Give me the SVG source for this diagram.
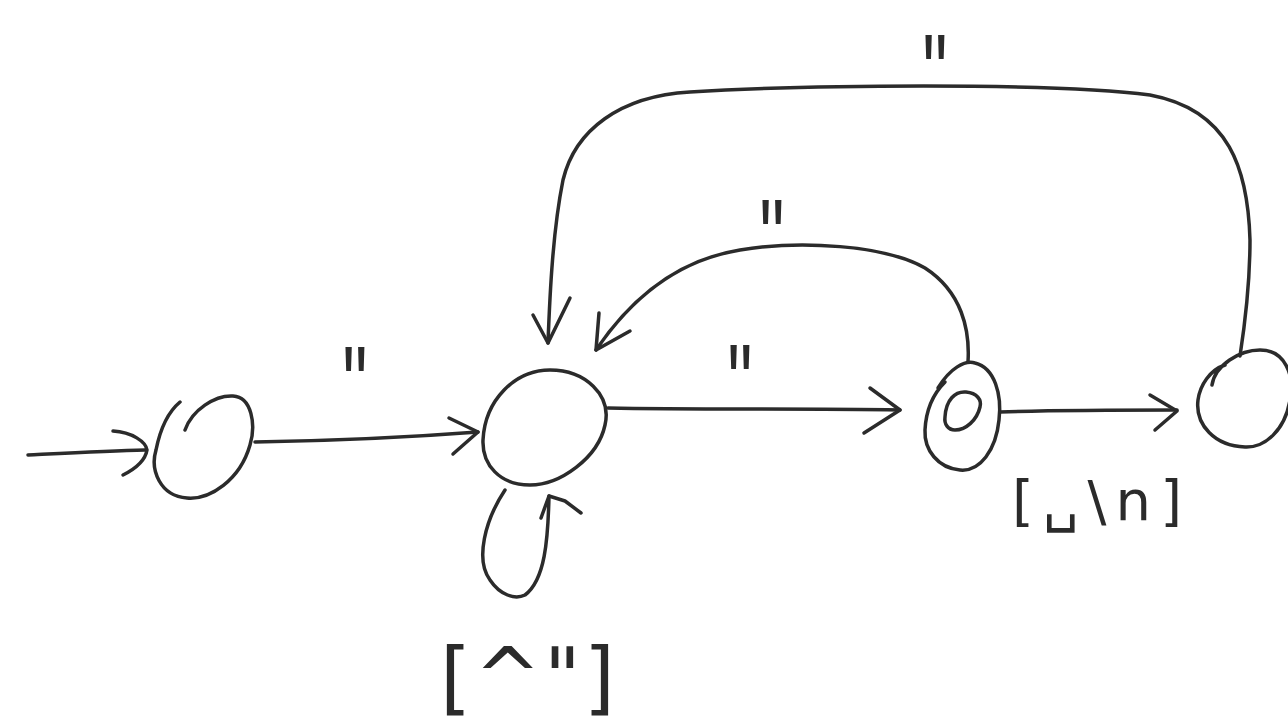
<svg xmlns="http://www.w3.org/2000/svg" width="1288" height="723" viewBox="0 0 1288 723">
  <style>
    .ink { fill: none; stroke: #2b2b2b; stroke-width: 3.5; stroke-linecap: round; stroke-linejoin: round; }
    .lbl { fill: #2b2b2b; font-family: "DejaVu Sans", "Liberation Sans", sans-serif; }
    .q { font-family: "Liberation Sans", sans-serif; font-size: 70px; text-anchor: middle; }
  </style>
  <rect width="1288" height="723" fill="#ffffff"/>

  <!-- states -->
  <g id="state-start">
    <path class="ink" d="M185,430 C192,410 215,395 233,396 C252,397 256,425 250,445 C240,480 210,500 187,498 C160,496 150,470 156,450 C160,430 168,412 180,402"/>
  </g>
  <g id="state-in-string">
    <path class="ink" d="M483,440 C485,400 515,370 550,370 C585,370 612,395 605,425 C598,458 560,485 530,485 C500,485 482,465 483,440 Z"/>
  </g>
  <g id="state-quote">
    <path class="ink" d="M938,388 C950,368 965,360 975,363 C995,368 1002,395 999,420 C996,450 980,472 960,470 C938,468 924,450 925,430 C926,410 932,395 945,382"/>
    <path class="ink" d="M945,417 C946,400 955,391 966,392 C977,393 982,400 980,407 C977,420 966,430 955,430 C948,430 944,424 945,417 Z"/>
  </g>
  <g id="state-end">
    <path class="ink" d="M1212,385 C1215,365 1240,350 1260,350 C1285,350 1295,375 1290,400 C1285,430 1265,448 1245,447 C1215,446 1195,425 1198,400 C1200,385 1210,370 1225,365"/>
  </g>

  <!-- transitions -->
  <g id="connectors">
    <!-- entry -->
    <path class="ink" d="M28,455 C70,453 110,451 145,450"/>
    <path class="ink" d="M113,431 C132,432 146,442 147,450 C145,462 133,470 123,475"/>
    <!-- start to in-string -->
    <path class="ink" d="M255,442 C320,441 400,438 478,432"/>
    <path class="ink" d="M449,418 L478,432 L453,454"/>
    <!-- self loop [^"] -->
    <path class="ink" d="M505,490 C485,520 475,560 490,580 C500,595 515,600 525,595 C545,580 548,540 549,496"/>
    <path class="ink" d="M541,518 L549,496 L565,501 L581,513"/>
    <!-- in-string to quote -->
    <path class="ink" d="M608,408 C700,410 800,408 900,410"/>
    <path class="ink" d="M870,388 L900,410 L864,433"/>
    <!-- quote to end -->
    <path class="ink" d="M1000,412 C1060,410 1120,410 1177,410"/>
    <path class="ink" d="M1150,395 L1177,411 L1155,430"/>
    <!-- quote back to in-string -->
    <path class="ink" d="M968,362 C970,330 962,292 925,268 C885,245 800,240 740,250 C690,258 640,285 596,350"/>
    <path class="ink" d="M599,313 L596,350 L630,331"/>
    <!-- end back to in-string -->
    <path class="ink" d="M1240,356 C1244,330 1250,290 1250,240 C1248,170 1230,110 1150,95 C1050,82 800,85 690,92 C620,96 575,130 563,180 C553,230 550,290 548,343"/>
    <path class="ink" d="M533,315 L548,343 L570,298"/>
  </g>

  <!-- labels -->
  <g id="labels">
    <text class="lbl q" transform="translate(935,112) scale(1,1.6)">"</text>
    <text class="lbl q" transform="translate(772,277) scale(1,1.6)">"</text>
    <text class="lbl q" transform="translate(355,424) scale(1,1.6)">"</text>
    <text class="lbl q" transform="translate(740,422) scale(1,1.6)">"</text>
    <text class="lbl" x="1012" y="520" font-size="56" textLength="170" lengthAdjust="spacing">[␣\n]</text>
    <text class="lbl" x="440" y="705" font-size="80" textLength="175" lengthAdjust="spacing">[^"]</text>
  </g>
</svg>
